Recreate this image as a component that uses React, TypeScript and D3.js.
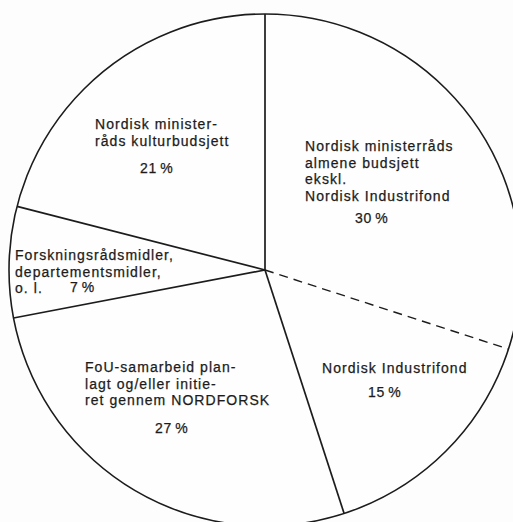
import React from "react";
import * as d3 from "d3";

// Fordeling av nordiske FoU-midler (prosent)
const categories = [
  "Nordisk ministerråds almene budsjett ekskl. Nordisk Industrifond",
  "Nordisk Industrifond",
  "FoU-samarbeid planlagt og/eller initiert gennem NORDFORSK",
  "Forskningsrådsmidler, departementsmidler, o. l.",
  "Nordisk ministerråds kulturbudsjett",
];
const shares = [30, 15, 27, 7, 21];

// tekstlinjer slik de står i figuren
const labelLines = [
  ["Nordisk ministerråds", "almene budsjett", "ekskl.", "Nordisk Industrifond"],
  ["Nordisk Industrifond"],
  ["FoU-samarbeid plan-", "lagt og/eller initie-", "ret gennem NORDFORSK"],
  ["Forskningsrådsmidler,", "departementsmidler,", "o. l."],
  ["Nordisk minister-", "råds kulturbudsjett"],
];
const pctLabels = ["30\u2009%", "15\u2009%", "27\u2009%", "7\u2009%", "21\u2009%"];

// grensen mellom almene budsjett og Industrifond er stiplet
const dashedAfter = [true, false, false, false, false];

const W = 513;
const H = 522;
const cx = 265;
const cy = 270;
const R = 256;

// plassering av tekst (venstre kant, første grunnlinje) relativt til sentrum
const labelPos = [
  { x: 40, y: -119, px: 90, py: -47 },
  { x: 57, y: 103, px: 103, py: 127 },
  { x: -180, y: 102, px: -110, py: 163 },
  { x: -250, y: -10, px: -195, py: 22 },
  { x: -170, y: -141, px: -125, py: -97 },
];
const lineH = 16.6;

export default function App() {
  const pie = d3
    .pie<number>()
    .sort(null)
    .value((d) => d);
  const arcs = pie(shares);

  const ink = "#1c1c1c";
  const font = "'Liberation Sans', Arial, Helvetica, sans-serif";

  const edge = (a: number) => [R * Math.sin(a), -R * Math.cos(a)];

  return (
    <>
      <style>{"body{margin:0;background:#fff}"}</style>
      <svg width={W} height={H} style={{ display: "block" }}>
        <rect width={W} height={H} fill="#fdfdfd" />
        <g transform={`translate(${cx},${cy})`}>
          <circle r={R} fill="#fefefe" stroke={ink} strokeWidth={1.6} />
          {arcs.map((a, i) => {
            const [x, y] = edge(a.startAngle);
            const dashed = i > 0 && dashedAfter[i - 1];
            return (
              <line
                key={categories[i]}
                x1={0}
                y1={0}
                x2={x}
                y2={y}
                stroke={ink}
                strokeWidth={dashed ? 1.4 : 1.7}
                strokeDasharray={dashed ? "9 6" : undefined}
              />
            );
          })}
          {labelLines.map((lines, i) => {
            const p = labelPos[i];
            return (
              <g
                key={"lab" + i}
                fontFamily={font}
                fontSize={14}
                letterSpacing={1.05}
                fill={ink}
                stroke={ink}
                strokeWidth={0.25}
              >
                {lines.map((t, j) => (
                  <text key={j} x={p.x} y={p.y + j * lineH}>
                    {t}
                  </text>
                ))}
                <text x={p.px} y={p.py} letterSpacing={0.6}>
                  {pctLabels[i]}
                </text>
              </g>
            );
          })}
        </g>
      </svg>
    </>
  );
}
